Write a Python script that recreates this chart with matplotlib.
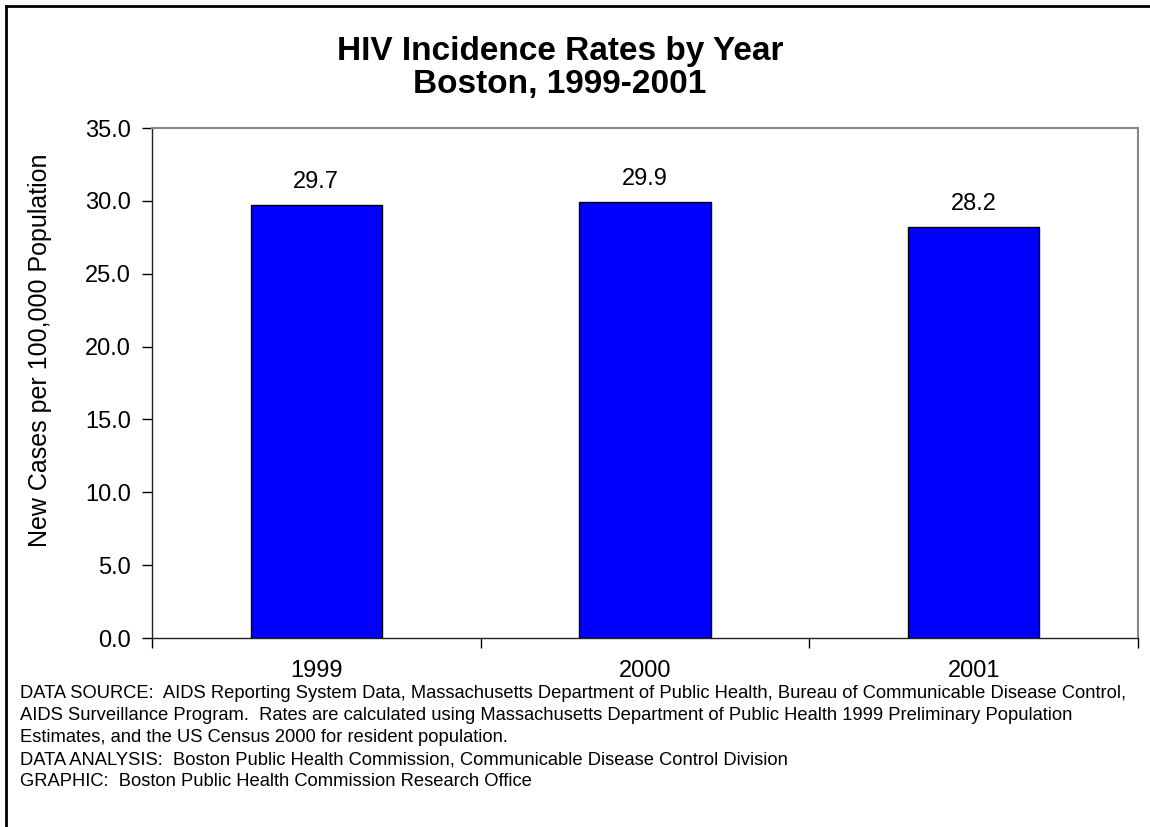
import matplotlib
matplotlib.use('Agg')
import matplotlib.pyplot as plt
from matplotlib.lines import Line2D

years = ['1999', '2000', '2001']
rates = [29.7, 29.9, 28.2]
yticks = [0, 5, 10, 15, 20, 25, 30, 35]

footnote = [
    'DATA SOURCE:  AIDS Reporting System Data, Massachusetts Department of Public Health, Bureau of Communicable Disease Control,',
    'AIDS Surveillance Program.  Rates are calculated using Massachusetts Department of Public Health 1999 Preliminary Population',
    'Estimates, and the US Census 2000 for resident population.',
    'DATA ANALYSIS:  Boston Public Health Commission, Communicable Disease Control Division',
    'GRAPHIC:  Boston Public Health Commission Research Office',
]

plt.rcParams['font.family'] = ['Liberation Sans', 'DejaVu Sans']

fig = plt.figure(figsize=(11.5, 8.27), dpi=100)
ax = fig.add_axes([0.1322, 0.2285, 0.8574, 0.6167])

x = list(range(len(years)))
bars = ax.bar(x, rates, width=0.4, color='#0000FF', edgecolor='black', linewidth=1)
for b, v in zip(bars, rates):
    ax.annotate(f'{v:.1f}', (b.get_x() + b.get_width() / 2, v), xytext=(0, 9),
                textcoords='offset points', ha='center', va='bottom', fontsize=17)

ax.set_xlim(-0.5, len(years) - 0.5)
ax.set_ylim(0, 35)
ax.set_yticks(yticks)
ax.set_yticklabels([f'{t:.1f}' for t in yticks], fontsize=17)
ax.set_xticks(x)
ax.set_xticklabels(years, fontsize=17)
ax.tick_params(axis='x', length=0, pad=16)
ax.tick_params(axis='y', length=7, width=1, pad=8)
# category boundary ticks on x axis
ax.set_xticks([i - 0.5 for i in range(len(years) + 1)], minor=True)
ax.tick_params(axis='x', which='minor', length=7, width=1)

for s in ['top', 'right']:
    ax.spines[s].set_color('#888888')
    ax.spines[s].set_linewidth(1.5)
for s in ['left', 'bottom']:
    ax.spines[s].set_color('#222222')
    ax.spines[s].set_linewidth(1)

fig.text(40 / 1150, 1 - 350 / 827, 'New Cases per 100,000 Population', rotation=90,
         ha='center', va='center', fontsize=18)

fig.text(0.487, 0.918, 'HIV Incidence Rates by Year\nBoston, 1999-2001', ha='center', va='center',
         fontsize=24, fontweight='bold', linespacing=1.1)

for i, line in enumerate(footnote):
    fig.text(20 / 1150, 1 - (694 + 22 * i) / 827, line, ha='left', va='center', fontsize=13.2)

# figure frame (left and top)
fig.add_artist(Line2D([6 / 1150, 6 / 1150], [0, 1 - 6 / 827], color='black', linewidth=2))
fig.add_artist(Line2D([6 / 1150, 1], [1 - 6 / 827, 1 - 6 / 827], color='black', linewidth=2))

fig.savefig('out.png', dpi=100)
